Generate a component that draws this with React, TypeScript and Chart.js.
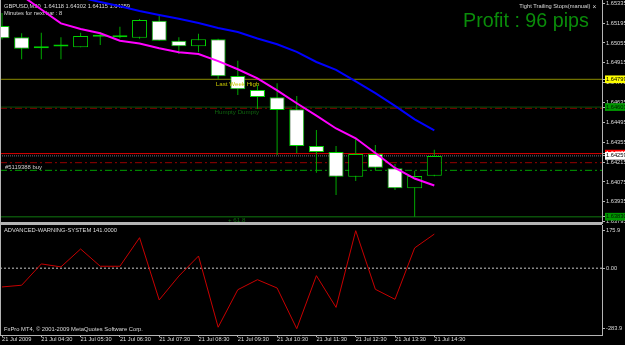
import React, { useEffect, useRef } from 'react';
import { Chart, registerables } from 'chart.js';

Chart.register(...registerables);

// ---------- data ----------
const SYMBOL = 'GBPUSD,M30';
const BARS = [0, 1, 2, 3, 4, 5, 6, 7, 8, 9, 10, 11, 12, 13, 14, 15, 16, 17, 18, 19, 20, 21, 22];
const OPEN = [1.65175, 1.65095, 1.65029, 1.6503, 1.65025, 1.65099, 1.65095, 1.65092, 1.65212, 1.65071, 1.65032, 1.65081, 1.64822, 1.64724, 1.64672, 1.64588, 1.64329, 1.64286, 1.64112, 1.64272, 1.64171, 1.6403, 1.64118];
const HIGH = [1.65267, 1.65123, 1.65128, 1.65095, 1.65128, 1.65133, 1.6517, 1.65224, 1.65245, 1.65095, 1.65121, 1.65085, 1.6493, 1.64759, 1.64771, 1.64681, 1.64442, 1.64329, 1.64383, 1.64336, 1.64202, 1.64154, 1.64302];
const LOW = [1.6508, 1.6494, 1.6494, 1.6494, 1.65025, 1.65041, 1.65088, 1.65085, 1.65071, 1.64977, 1.64989, 1.64799, 1.64688, 1.6459, 1.64265, 1.64277, 1.6414, 1.63983, 1.64082, 1.64159, 1.64018, 1.6383, 1.64115];
const CLOSE = [1.65088, 1.65015, 1.65018, 1.65034, 1.65104, 1.65102, 1.65097, 1.65217, 1.65071, 1.65032, 1.65081, 1.6482, 1.64728, 1.64674, 1.64583, 1.64329, 1.64286, 1.64112, 1.64272, 1.64176, 1.6403, 1.64117, 1.64259];
const MA_FAST = [1.65492, 1.6539, 1.65291, 1.65193, 1.65154, 1.65124, 1.65071, 1.65051, 1.65018, 1.6499, 1.64977, 1.64927, 1.6487, 1.64805, 1.64721, 1.6463, 1.64543, 1.64452, 1.64383, 1.64279, 1.64174, 1.64099, 1.6405];
const MA_SLOW = [1.65503, 1.65471, 1.65439, 1.65408, 1.65376, 1.65344, 1.65314, 1.65281, 1.65252, 1.65226, 1.65196, 1.65161, 1.65133, 1.65087, 1.65046, 1.64992, 1.64921, 1.64865, 1.64784, 1.64702, 1.64611, 1.64516, 1.64438];
const AWS_VALUES = [-88, -80, 20, 6, 90, 9, 9, 143, -149, -37, 57, -277, -101, -54, -93, -283.9, -35, -184, 175.9, -99, -146, 95, 160];

const TIME_LABEL_BARS = [0, 2, 4, 6, 8, 10, 12, 14, 16, 18, 20, 22];
const TIME_LABELS = ['21 Jul 2009', '21 Jul 04:30', '21 Jul 05:30', '21 Jul 06:30', '21 Jul 07:30', '21 Jul 08:30', '21 Jul 09:30', '21 Jul 10:30', '21 Jul 11:30', '21 Jul 12:30', '21 Jul 13:30', '21 Jul 14:30'];
const PRICE_TICKS = [1.65335, 1.65195, 1.65055, 1.64915, 1.64775, 1.64635, 1.64495, 1.64355, 1.64215, 1.64075, 1.63935, 1.63795];
const AWS_TICKS = [175.9, 0, -283.9];
const AWS_TICK_LABELS = ['175.9', '0.00', '-283.9'];

const LEVEL_LAST_WEEK_HIGH = 1.64799;
const LEVEL_HUMPTY = 1.64603;
const LEVEL_UPPER_DASH = 1.64595;
const LEVEL_RED = 1.64275;
const LEVEL_BID = 1.64259;
const LEVEL_LOWER_DASH = 1.64211;
const LEVEL_ORDER = 1.64157;
const LEVEL_618 = 1.6383;

const ORDER_TEXT = '#5119388 buy';
const PROFIT_TEXT = 'Profit : 96 pips';
const TIMER_TEXT = 'Minutes for next bar : 8';
const EA_TEXT = 'Tight Trailing Stops(manual)';
const AWS_TEXT = 'ADVANCED-WARNING-SYSTEM 141.0000';
const COPYRIGHT_TEXT = 'FxPro MT4, \u00a9 2001-2009 MetaQuotes Software Corp.';

// ---------- layout / style constants ----------
const X_MIN = -0.1018;
const X_MAX = 30.534;
const Y_MIN = 1.637927;
const Y_MAX = 1.653582;
const AWS_MIN = -313.5;
const AWS_MAX = 202.6;
const FONT = "'Liberation Sans', Arial, sans-serif";
const AXIS_GRAY = '#b4b4b4';
const TEXT_GRAY = '#dcdcdc';
const DASH_DOT = [7, 3, 2, 3];

const HIGHLIGHTS = [
  { value: LEVEL_LAST_WEEK_HIGH, bg: '#ffff00', fg: '#000000' },
  { value: LEVEL_HUMPTY, bg: '#009600', fg: '#001800' },
  { value: LEVEL_RED, bg: '#ff0000', fg: '#ffffff' },
  { value: LEVEL_BID, bg: '#ffffff', fg: '#000000' },
  { value: LEVEL_618, bg: '#009600', fg: '#001800' },
];
const findHL = (v: number) => HIGHLIGHTS.find((h) => Math.abs(h.value - v) < 1e-7);

function drawText(ctx: CanvasRenderingContext2D, text: string, x: number, y: number, size: number, color: string) {
  ctx.save();
  ctx.font = `${size}px ${FONT}`;
  ctx.fillStyle = color;
  ctx.textAlign = 'left';
  ctx.textBaseline = 'alphabetic';
  ctx.fillText(text, x, y);
  ctx.restore();
}

function levelLine(level: number, color: string, dash: number[], width = 1) {
  return {
    type: 'line' as const,
    data: [{ x: X_MIN, y: level }, { x: X_MAX, y: level }],
    borderColor: color,
    borderDash: dash,
    borderWidth: width,
    pointRadius: 0,
    fill: false,
    order: 3,
  };
}

export default function App() {
  const mainRef = useRef<HTMLCanvasElement>(null);
  const subRef = useRef<HTMLCanvasElement>(null);

  useEffect(() => {
    document.body.style.margin = '0';
    document.body.style.background = '#000';

    const mainPlugin = {
      id: 'mt4Main',
      beforeDatasetsDraw(chart: any) {
        const ctx = chart.ctx;
        const hdr = `${SYMBOL}  ${OPEN[22].toFixed(5)} ${HIGH[22].toFixed(5)} ${LOW[22].toFixed(5)} ${CLOSE[22].toFixed(5)}`;
        drawText(ctx, hdr, 4, 8.3, 5.7, TEXT_GRAY);
        drawText(ctx, TIMER_TEXT, 4, 14.7, 5.7, TEXT_GRAY);
      },
      afterDatasetsDraw(chart: any) {
        const ctx = chart.ctx;
        const xs = chart.scales.x;
        const ys = chart.scales.y;
        drawText(ctx, 'Last Week High', xs.getPixelForValue(10.88), ys.getPixelForValue(LEVEL_LAST_WEEK_HIGH) + 6.4, 6.2, '#c8c800');
        drawText(ctx, 'Humpty Dumpty', xs.getPixelForValue(10.82), ys.getPixelForValue(LEVEL_HUMPTY) + 6.7, 6.2, '#0f640f');
        drawText(ctx, ORDER_TEXT, 5, ys.getPixelForValue(LEVEL_ORDER) - 1.2, 5.9, '#cfcfcf');
        drawText(ctx, '+ 61.8', xs.getPixelForValue(11.5), ys.getPixelForValue(LEVEL_618) + 5.2, 6.2, '#0f6e0f');
        drawText(ctx, PROFIT_TEXT, 463, 26.7, 19.7, '#0a8c0a');
        drawText(ctx, EA_TEXT, 519.3, 8.3, 5.7, TEXT_GRAY);
        drawText(ctx, '\u00d7', 592.5, 8.6, 6.5, TEXT_GRAY);
      },
      afterDraw(chart: any) {
        const ctx = chart.ctx;
        const a = chart.chartArea;
        ctx.save();
        ctx.strokeStyle = AXIS_GRAY;
        ctx.lineWidth = 1;
        ctx.beginPath();
        ctx.moveTo(0.5, 0);
        ctx.lineTo(0.5, a.bottom);
        ctx.stroke();
        ctx.lineWidth = 2;
        ctx.beginPath();
        ctx.moveTo(0, a.bottom + 1);
        ctx.lineTo(a.right + 1, a.bottom + 1);
        ctx.stroke();
        ctx.restore();
      },
    };

    const subPlugin = {
      id: 'mt4Sub',
      afterDatasetsDraw(chart: any) {
        const ctx = chart.ctx;
        drawText(ctx, AWS_TEXT, 4, 8.4, 5.8, TEXT_GRAY);
        drawText(ctx, COPYRIGHT_TEXT, 4, 107, 5.8, TEXT_GRAY);
      },
      afterDraw(chart: any) {
        const ctx = chart.ctx;
        const a = chart.chartArea;
        ctx.save();
        ctx.strokeStyle = AXIS_GRAY;
        ctx.lineWidth = 1;
        ctx.beginPath();
        ctx.moveTo(0, 0.5);
        ctx.lineTo(a.right, 0.5);
        ctx.moveTo(0.5, 0);
        ctx.lineTo(0.5, a.bottom);
        ctx.stroke();
        ctx.restore();
      },
    };

    const axisPriceValues = [...PRICE_TICKS, ...HIGHLIGHTS.map((h) => h.value)];

    const main = new Chart(mainRef.current as HTMLCanvasElement, {
      type: 'bar',
      data: {
        datasets: [
          {
            type: 'line',
            data: BARS.map((i) => ({ x: i, y: MA_FAST[i] })),
            borderColor: '#ff00ff',
            borderWidth: 2,
            pointRadius: 0,
            fill: false,
            order: 0,
          },
          {
            type: 'line',
            data: BARS.map((i) => ({ x: i, y: MA_SLOW[i] })),
            borderColor: '#0000ff',
            borderWidth: 2,
            pointRadius: 0,
            fill: false,
            order: 0,
          },
          {
            type: 'bar',
            data: BARS.map((i) => ({ x: i, y: [OPEN[i], CLOSE[i]] })),
            backgroundColor: BARS.map((i) => (CLOSE[i] < OPEN[i] ? '#ffffff' : '#000000')),
            borderColor: '#00d200',
            borderWidth: 1,
            borderSkipped: false,
            grouped: false,
            barThickness: 15,
            maxBarThickness: 15,
            minBarLength: 2,
            inflateAmount: 0,
            order: 1,
          },
          {
            type: 'bar',
            data: BARS.map((i) => ({ x: i, y: [LOW[i], HIGH[i]] })),
            backgroundColor: '#00a800',
            borderWidth: 0,
            grouped: false,
            barThickness: 1,
            maxBarThickness: 1,
            inflateAmount: 0,
            order: 2,
          },
          levelLine(LEVEL_LAST_WEEK_HIGH, '#8c8c00', []),
          levelLine(LEVEL_HUMPTY, '#0a500a', []),
          levelLine(LEVEL_UPPER_DASH, '#960000', DASH_DOT),
          levelLine(LEVEL_RED, '#e00000', []),
          levelLine(LEVEL_BID, '#6e6e7e', [1, 1]),
          levelLine(LEVEL_LOWER_DASH, '#960000', DASH_DOT),
          levelLine(LEVEL_ORDER, '#00a000', DASH_DOT),
          levelLine(LEVEL_618, '#0a500a', [], 1.5),
        ] as any,
      },
      options: {
        animation: false,
        responsive: false,
        events: [],
        layout: { padding: { top: 0, left: 0, right: 0, bottom: 2 }, autoPadding: false } as any,
        plugins: { legend: { display: false }, tooltip: { enabled: false } },
        scales: {
          x: {
            type: 'linear',
            display: false,
            offset: false,
            min: X_MIN,
            max: X_MAX,
          },
          y: {
            type: 'linear',
            position: 'right',
            min: Y_MIN,
            max: Y_MAX,
            beginAtZero: false,
            afterBuildTicks: (s: any) => {
              s.ticks = axisPriceValues.map((v) => ({ value: v }));
            },
            afterFit: (s: any) => {
              s.width = 23;
              s.paddingTop = 0;
              s.paddingBottom = 0;
            },
            grid: { display: true, drawOnChartArea: false, drawTicks: true, tickLength: 3, color: AXIS_GRAY, tickColor: AXIS_GRAY },
            border: { display: true, color: AXIS_GRAY, width: 1 },
            ticks: {
              autoSkip: false,
              padding: 1,
              font: { family: FONT, size: 5.7, lineHeight: 1 },
              color: (c: any) => {
                const h = c.tick ? findHL(c.tick.value) : undefined;
                return h ? h.fg : TEXT_GRAY;
              },
              showLabelBackdrop: true,
              backdropColor: (c: any) => {
                const h = c.tick ? findHL(c.tick.value) : undefined;
                return h ? h.bg : 'rgba(0,0,0,0)';
              },
              backdropPadding: { top: 1, bottom: 1, left: 1, right: 6 },
              callback: (v: any) => Number(v).toFixed(5),
            },
          } as any,
        },
      },
      plugins: [mainPlugin],
    });

    const sub = new Chart(subRef.current as HTMLCanvasElement, {
      type: 'line',
      data: {
        datasets: [
          {
            data: BARS.map((i) => ({ x: i, y: AWS_VALUES[i] })),
            borderColor: '#c80000',
            borderWidth: 1,
            pointRadius: 0,
            fill: false,
            order: 0,
          },
          {
            data: [{ x: X_MIN, y: 0 }, { x: X_MAX, y: 0 }],
            borderColor: '#c8c8c8',
            borderWidth: 1,
            borderDash: [2, 2],
            pointRadius: 0,
            fill: false,
            order: 1,
          },
        ],
      },
      options: {
        animation: false,
        responsive: false,
        events: [],
        layout: { padding: { top: 1, left: 0, right: 0, bottom: 0 }, autoPadding: false } as any,
        plugins: { legend: { display: false }, tooltip: { enabled: false } },
        scales: {
          x: {
            type: 'linear',
            position: 'bottom',
            offset: false,
            min: X_MIN,
            max: X_MAX,
            afterBuildTicks: (s: any) => {
              s.ticks = TIME_LABEL_BARS.map((v) => ({ value: v }));
            },
            afterFit: (s: any) => {
              s.height = 10;
              s.paddingLeft = 0;
              s.paddingRight = 0;
            },
            grid: { display: true, drawOnChartArea: false, drawTicks: true, tickLength: 2, color: AXIS_GRAY, tickColor: AXIS_GRAY },
            border: { display: true, color: AXIS_GRAY, width: 1 },
            ticks: {
              autoSkip: false,
              maxRotation: 0,
              minRotation: 0,
              align: 'start',
              padding: 0,
              font: { family: FONT, size: 5.7, lineHeight: 1 },
              color: TEXT_GRAY,
              callback: (_v: any, i: number) => TIME_LABELS[i],
            },
          } as any,
          y: {
            type: 'linear',
            position: 'right',
            min: AWS_MIN,
            max: AWS_MAX,
            afterBuildTicks: (s: any) => {
              s.ticks = AWS_TICKS.map((v) => ({ value: v }));
            },
            afterFit: (s: any) => {
              s.width = 23;
              s.paddingTop = 0;
              s.paddingBottom = 0;
            },
            grid: { display: true, drawOnChartArea: false, drawTicks: true, tickLength: 3, color: AXIS_GRAY, tickColor: AXIS_GRAY },
            border: { display: true, color: AXIS_GRAY, width: 1 },
            ticks: {
              autoSkip: false,
              padding: 1,
              font: { family: FONT, size: 5.7, lineHeight: 1 },
              color: TEXT_GRAY,
              callback: (_v: any, i: number) => AWS_TICK_LABELS[i],
            },
          } as any,
        },
      },
      plugins: [subPlugin],
    });

    return () => {
      main.destroy();
      sub.destroy();
    };
  }, []);

  return (
    <div style={{ position: 'fixed', left: 0, top: 0, width: 625, height: 345, background: '#000', overflow: 'hidden' }}>
      <canvas ref={mainRef} width={625} height={224} style={{ position: 'absolute', left: 0, top: 0, display: 'block' }} />
      <canvas ref={subRef} width={625} height={121} style={{ position: 'absolute', left: 0, top: 224, display: 'block' }} />
    </div>
  );
}
